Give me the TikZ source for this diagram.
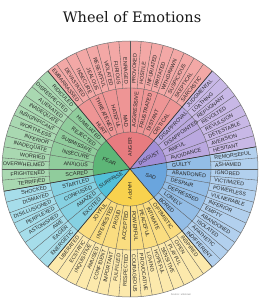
\documentclass[tikz,border=0pt]{standalone}
\usepackage{fontspec}
\newfontfamily\wf{Liberation Sans}
\newfontfamily\tf{DejaVu Serif}
\definecolor{angO}{HTML}{F3A8A6}
\definecolor{angM}{HTML}{EE9595}
\definecolor{angC}{HTML}{E77C80}
\definecolor{disO}{HTML}{C8B8E6}
\definecolor{disM}{HTML}{BAA8DF}
\definecolor{disC}{HTML}{A18ED6}
\definecolor{sadO}{HTML}{B2D0EE}
\definecolor{sadM}{HTML}{93BDE6}
\definecolor{sadC}{HTML}{6AA5DD}
\definecolor{hapO}{HTML}{FCE9AC}
\definecolor{hapM}{HTML}{FADD80}
\definecolor{hapC}{HTML}{F8D24E}
\definecolor{surO}{HTML}{A6DDEA}
\definecolor{surM}{HTML}{86D1E2}
\definecolor{surC}{HTML}{52C0D9}
\definecolor{feaO}{HTML}{A9D8B1}
\definecolor{feaM}{HTML}{90CC9C}
\definecolor{feaC}{HTML}{5DB677}
\definecolor{txt}{HTML}{262626}
\newcommand\ringsector[5]{\fill[#5] (#1:#3) arc[start angle=#1,end angle=#2,radius=#3] -- (#2:#4) arc[start angle=#2,end angle=#1,radius=#4] -- cycle;}
\newcommand\coresector[4]{\fill[#4] (0,0) -- (#1:#3) arc[start angle=#1,end angle=#2,radius=#3] -- cycle;}
\newcommand\wlabels[6]{%
  \foreach \w [count=\i] in {#6} {
    \pgfmathsetmacro\th{#2-(\i-0.5)*#3}
    \pgfmathsetmacro\cc{cos(\th)}
    \ifdim\cc pt<-0.001pt
      \node[#5, anchor=east, rotate=\th+180] (#1\i) at (\th:#4) {\w};
    \else
      \node[#5, anchor=west, rotate=\th] (#1\i) at (\th:#4) {\w};
    \fi
  }}
\tikzset{
  outerlbl/.style={font=\wf\fontsize{5.3}{6}\selectfont, text=txt, inner sep=0pt},
  midlbl/.style={font=\wf\fontsize{5.4}{6}\selectfont, text=txt, inner sep=0pt},
  corelbl/.style={font=\wf\fontsize{5.2}{6}\selectfont, text=txt, inner sep=0pt},
  divline/.style={draw=black!65, line width=0.35pt},
  catline/.style={draw=black!80, line width=0.6pt},
}
\begin{document}
\begin{tikzpicture}[x=1pt,y=1pt]
\useasboundingbox (-130,-131) rectangle (136,169);
\fill[white] (-130,-131) rectangle (136,169);
% sectors
\ringsector{50}{130}{81}{128}{angO}
\ringsector{50}{130}{37}{81}{angM}
\coresector{50}{130}{37}{angC}
\ringsector{10}{50}{81}{128}{disO}
\ringsector{10}{50}{37}{81}{disM}
\coresector{10}{50}{37}{disC}
\ringsector{-50}{10}{81}{128}{sadO}
\ringsector{-50}{10}{37}{81}{sadM}
\coresector{-50}{10}{37}{sadC}
\ringsector{-130}{-50}{81}{128}{hapO}
\ringsector{-130}{-50}{37}{81}{hapM}
\coresector{-130}{-50}{37}{hapC}
\ringsector{-170}{-130}{81}{128}{surO}
\ringsector{-170}{-130}{37}{81}{surM}
\coresector{-170}{-130}{37}{surC}
\ringsector{130}{190}{81}{128}{feaO}
\ringsector{130}{190}{37}{81}{feaM}
\coresector{130}{190}{37}{feaC}
% dividers
\foreach \a in {0,5,...,355} \draw[divline] (\a:81) -- (\a:128);
\foreach \a in {0,10,...,350} \draw[divline] (\a:37) -- (\a:81);
\draw[divline] (0,0) circle[radius=37];
\draw[divline] (0,0) circle[radius=81];
\draw[draw=black!55, line width=0.5pt] (0,0) circle[radius=128];
\foreach \a in {10,50,130,190,230,310} \draw[catline] (0,0) -- (\a:128);
% outer labels
\wlabels{ao}{130}{5}{85}{outerlbl}{EMBARRASSED,DEVASTATED,INSECURE,JEALOUS,RESENTFUL,VIOLATED,FURIOUS,ENRAGED,PROVOKED,HOSTILE,INFURIATED,IRRITATED,WITHDRAWN,SUSPICIOUS,SKEPTICAL,SARCASTIC}
\wlabels{do}{50}{5}{85}{outerlbl}{JUDGMENTAL,LOATHING,REPUGNANT,REVOLTED,REVULSION,DETESTABLE,AVERSION,HESITANT}
\wlabels{so}{10}{5}{85}{outerlbl}{REMORSEFUL,ASHAMED,IGNORED,VICTIMIZED,POWERLESS,VULNERABLE,INFERIOR,EMPTY,ABANDONED,ISOLATED,APATHETIC,INDIFFERENT}
\wlabels{ho}{-50}{5}{85}{outerlbl}{INSPIRED,OPEN,PLAYFUL,SENSITIVE,HOPEFUL,LOVING,PROVOCATIVE,COURAGEOUS,RESPECTED,FULFILLED,IMPORTANT,CONFIDENT,AMUSED,INQUISITIVE,ECSTATIC,LIBERATED}
\wlabels{uo}{-130}{5}{85}{outerlbl}{ENERGETIC,EAGER,AWE,ASTONISHED,PERPLEXED,DISILLUSIONED,DISMAYED,SHOCKED}
\wlabels{fo}{190}{5}{85}{outerlbl}{TERRIFIED,FRIGHTENED,OVERWHELMED,WORRIED,INADEQUATE,INFERIOR,WORTHLESS,INSIGNIFICANT,INADEQUATE,ALIENATED,DISRESPECTED,RIDICULED}
% middle labels
\wlabels{am}{130}{10}{42}{midlbl}{HURT,THREATENED,HATEFUL,MAD,AGGRESSIVE,FRUSTRATED,DISTANT,CRITICAL}
\wlabels{dm}{50}{10}{42}{midlbl}{DISAPPROVAL,DISAPPOINTED,AWFUL,AVOIDANCE}
\wlabels{sm}{10}{10}{42}{midlbl}{GUILTY,ABANDONED,DESPAIR,DEPRESSED,LONELY,BORED}
\wlabels{hm}{-50}{10}{42}{midlbl}{OPTIMISTIC,INTIMATE,PEACEFUL,POWERFUL,ACCEPTED,PROUD,INTERESTED,JOYFUL}
\wlabels{um}{-130}{10}{42}{midlbl}{EXCITED,AMAZED,CONFUSED,STARTLED}
\wlabels{fm}{190}{10}{42}{midlbl}{SCARED,ANXIOUS,INSECURE,SUBMISSIVE,REJECTED,HUMILIATED}
% core labels
\node[corelbl, rotate=90] (anger) at (90:22) {ANGER};
\node[corelbl, rotate=30] (disgust) at (30:22) {DISGUST};
\node[corelbl, rotate=-20] (sad) at (-20:22) {SAD};
\node[corelbl, rotate=-90] (happy) at (-90:22) {HAPPY};
\node[corelbl, rotate=30] (surprise) at (-150:22) {SURPRISE};
\node[corelbl, rotate=-20] (fear) at (160:22) {FEAR};
% title and source
\node[font=\tf\fontsize{14.5}{17}\selectfont, text=black!90] (title) at (2,152) {Wheel of Emotions};
\node[font=\wf\fontsize{2.6}{3}\selectfont, text=black!45] (source) at (51,-126) {Source: unknown};
\end{tikzpicture}
\end{document}
